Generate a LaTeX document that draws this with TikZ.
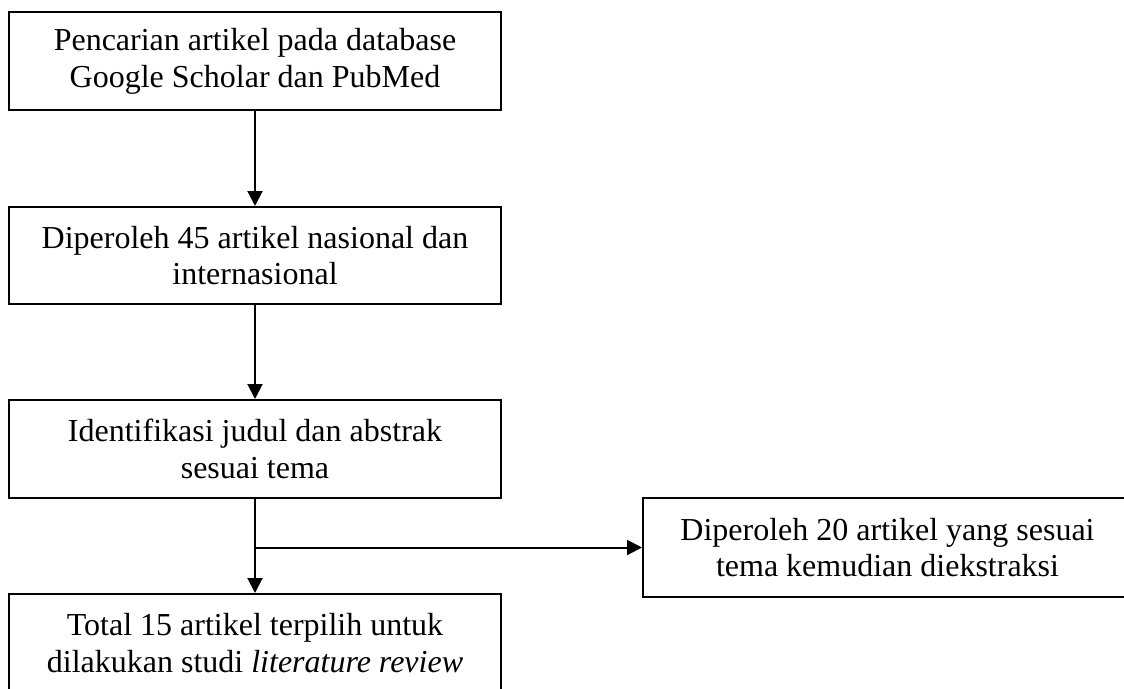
\documentclass[tikz,border=0pt]{standalone}
\usepackage{fontspec}
\setmainfont{Liberation Serif}
\usetikzlibrary{arrows.meta}
\begin{document}
\begin{tikzpicture}[x=1pt,y=-1pt,
  box/.style={draw=black,line width=2pt,minimum width=492pt,inner sep=0pt,
    align=center,font=\fontsize{32}{36.8}\selectfont},
  arr/.style={line width=2pt,-{Triangle[width=15pt,length=15pt]}}]
\useasboundingbox (0,0) rectangle (1124,688);
\node[box,minimum height=98pt] (b1) at (255,61) {Pencarian artikel pada database\\Google Scholar dan PubMed};
\node[box,minimum height=97pt] (b2) at (255,255.5) {Diperoleh 45 artikel nasional dan\\internasional};
\node[box,minimum height=98pt] (b3) at (255,449) {Identifikasi judul dan abstrak\\sesuai tema};
\node[box,minimum height=99pt,minimum width=489pt] (b4) at (887.5,547.5) {Diperoleh 20 artikel yang sesuai\\tema kemudian diekstraksi};
\node[box,minimum height=98pt] (b5) at (255,643) {Total 15 artikel terpilih untuk\\dilakukan studi \textit{literature review}};
\coordinate (br) at (b3.south |- b4.west);
\draw[arr] (b1.south) -- (b2.north);
\draw[arr] (b2.south) -- (b3.north);
\draw[arr] (b3.south) -- (b5.north);
\draw[arr] (br) -- (b4.west);
\end{tikzpicture}
\end{document}
